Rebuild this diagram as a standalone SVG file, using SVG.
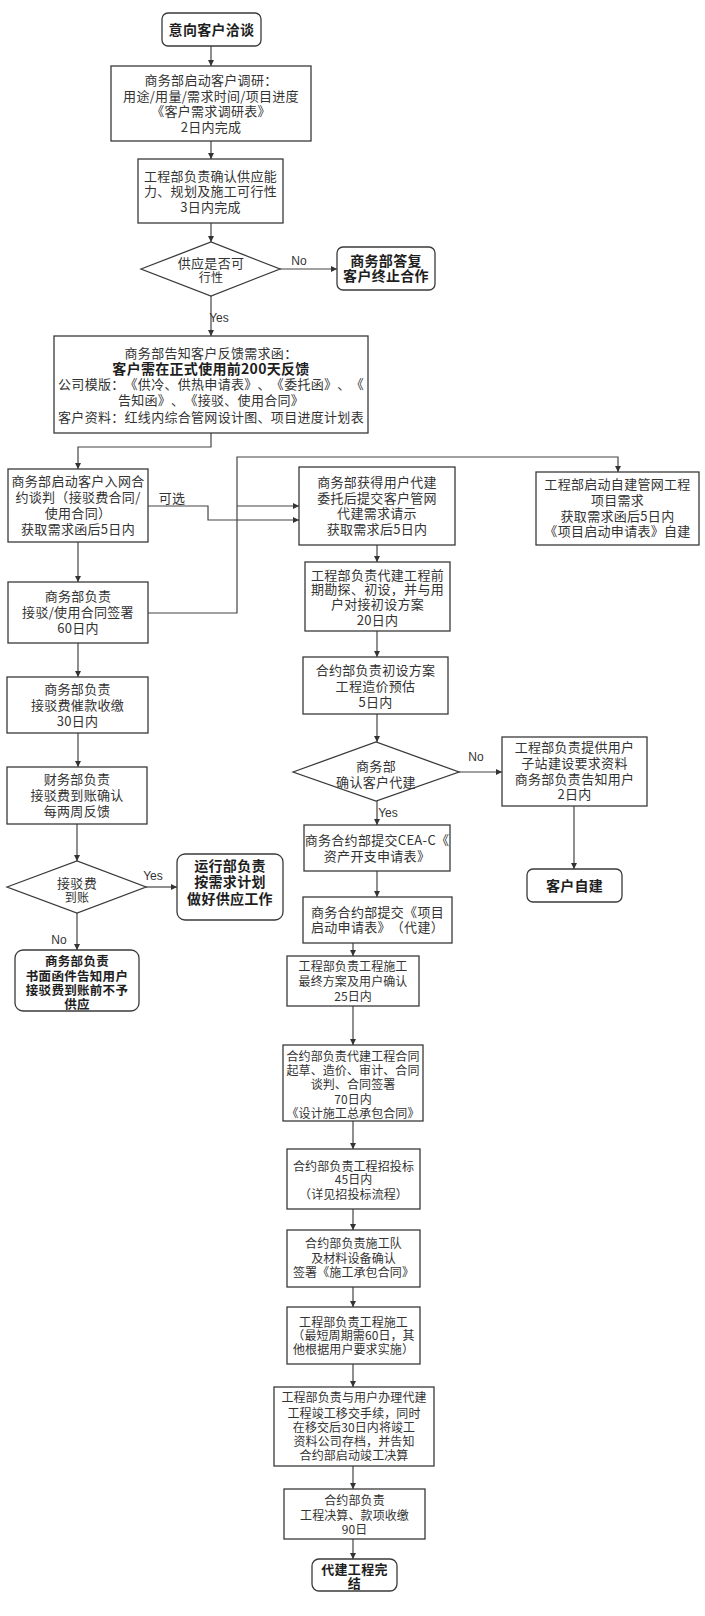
<svg xmlns="http://www.w3.org/2000/svg" width="705" height="1616" viewBox="0 0 705 1616">
<defs>
<style>
.box{fill:#fff;stroke:#3a3a3a;stroke-width:1.3}
.t{font-family:"Noto Sans CJK SC","Liberation Sans",sans-serif;font-size:13px;fill:#333;text-anchor:middle;letter-spacing:0.3px;text-spacing-trim:space-all}
.s{font-size:12px;letter-spacing:0.1px}
.b{font-weight:bold;fill:#1e1e1e;font-size:14px}
.lbl{font-family:"Liberation Sans",sans-serif;font-size:12px;fill:#333;text-anchor:middle}
.c{fill:none;stroke:#444;stroke-width:1.2;marker-end:url(#a)}
</style>
<marker id="a" markerWidth="6" markerHeight="6" refX="6" refY="3" orient="auto" markerUnits="userSpaceOnUse">
<path d="M0,0 L6,3 L0,6 z" fill="#333"/>
</marker>
</defs>
<rect width="705" height="1616" fill="#fff"/>

<g id="connectors">
<path class="c" d="M211,46 V66"/>
<path class="c" d="M211,141 V159"/>
<path class="c" d="M211,223 V242"/>
<path class="c" d="M280,269 H337"/>
<path class="c" d="M211,296 V336"/>
<path class="c" d="M211,433 V447 H78 V469"/>
<path class="c" d="M78,542 V582"/>
<path class="c" d="M148,506 H208 V520 H299"/>
<path class="c" d="M148,613 H237 V457 H618 V472"/>
<path class="c" d="M237,506 H299"/>
<path class="c" d="M377,545 V562"/>
<path class="c" d="M377,631 V657"/>
<path class="c" d="M377,714 V742"/>
<path class="c" d="M459,772 H502"/>
<path class="c" d="M574,806 V869"/>
<path class="c" d="M377,801 V825"/>
<path class="c" d="M377,871 V897"/>
<path class="c" d="M353,943 V956"/>
<path class="c" d="M353,1006 V1045"/>
<path class="c" d="M353,1121 V1149"/>
<path class="c" d="M353,1209 V1230"/>
<path class="c" d="M353,1287 V1307"/>
<path class="c" d="M353,1364 V1387"/>
<path class="c" d="M353,1466 V1489"/>
<path class="c" d="M353,1539 V1559"/>
<path class="c" d="M78,643 V677"/>
<path class="c" d="M78,733 V767"/>
<path class="c" d="M77,824 V861"/>
<path class="c" d="M146,887 H177"/>
<path class="c" d="M77,913 V950"/>
<text class="lbl" x="299" y="265">No</text>
<text class="lbl" x="219" y="322">Yes</text>
<text class="t" x="172" y="503">可选</text>
<text class="lbl" x="476" y="761">No</text>
<text class="lbl" x="388" y="817">Yes</text>
<text class="lbl" x="153" y="880">Yes</text>
<text class="lbl" x="59" y="944">No</text>
</g>

<g id="n1"><rect class="box" x="162" y="13" width="99" height="33" rx="6"/>
<text class="t b" x="211.5" y="35">意向客户洽谈</text></g>

<g id="n2"><rect class="box" x="111" y="66" width="200" height="75"/>
<text class="t"><tspan x="211" y="85">商务部启动客户调研：</tspan><tspan x="211" y="101">用途/用量/需求时间/项目进度</tspan><tspan x="211" y="116">《客户需求调研表》</tspan><tspan x="211" y="132">2日内完成</tspan></text></g>

<g id="n3"><rect class="box" x="138" y="159" width="145" height="64"/>
<text class="t"><tspan x="210.5" y="181">工程部负责确认供应能</tspan><tspan x="210.5" y="196">力、规划及施工可行性</tspan><tspan x="210.5" y="212">3日内完成</tspan></text></g>

<g id="d1"><polygon class="box" points="141,269 211,242 280,269 211,296"/>
<text class="t"><tspan x="211" y="268">供应是否可</tspan><tspan x="211" y="282" style="font-size:12px">行性</tspan></text></g>

<g id="n4"><rect class="box" x="337" y="247" width="98" height="43" rx="6"/>
<text class="t b"><tspan x="386" y="266">商务部答复</tspan><tspan x="386" y="281">客户终止合作</tspan></text></g>

<g id="n5"><rect class="box" x="54" y="336" width="314" height="97"/>
<text class="t"><tspan x="211" y="358">商务部告知客户反馈需求函：</tspan><tspan x="211" y="374" style="font-weight:bold;font-size:14px;fill:#1e1e1e">客户需在正式使用前200天反馈</tspan><tspan x="211" y="389">公司模版：《供冷、供热申请表》、《委托函》、《</tspan><tspan x="211" y="405">告知函》、《接驳、使用合同》</tspan><tspan x="211" y="422">客户资料：红线内综合管网设计图、项目进度计划表</tspan></text></g>

<g id="n6"><rect class="box" x="8" y="469" width="140" height="73"/>
<text class="t"><tspan x="78" y="486">商务部启动客户入网合</tspan><tspan x="78" y="502">约谈判（接驳费合同/</tspan><tspan x="78" y="518">使用合同）</tspan><tspan x="78" y="534">获取需求函后5日内</tspan></text></g>

<g id="n7"><rect class="box" x="8" y="582" width="140" height="61"/>
<text class="t"><tspan x="78" y="601">商务部负责</tspan><tspan x="78" y="617">接驳/使用合同签署</tspan><tspan x="78" y="633">60日内</tspan></text></g>

<g id="n8"><rect class="box" x="7" y="677" width="141" height="56"/>
<text class="t"><tspan x="77.5" y="694">商务部负责</tspan><tspan x="77.5" y="710">接驳费催款收缴</tspan><tspan x="77.5" y="726">30日内</tspan></text></g>

<g id="n9"><rect class="box" x="7" y="767" width="140" height="57"/>
<text class="t"><tspan x="77" y="784">财务部负责</tspan><tspan x="77" y="800">接驳费到账确认</tspan><tspan x="77" y="816">每两周反馈</tspan></text></g>

<g id="d2"><polygon class="box" points="7,887 77,861 146,887 77,913"/>
<text class="t"><tspan x="77" y="888">接驳费</tspan><tspan x="77" y="902" style="font-size:12px">到账</tspan></text></g>

<g id="n10"><rect class="box" x="177" y="854" width="106" height="66" rx="8"/>
<text class="t b"><tspan x="230" y="871">运行部负责</tspan><tspan x="230" y="887">按需求计划</tspan><tspan x="230" y="904">做好供应工作</tspan></text></g>

<g id="n11"><rect class="box" x="15" y="950" width="124" height="61" rx="8"/>
<text class="t b" style="font-size:12.5px"><tspan x="77" y="966">商务部负责</tspan><tspan x="77" y="981">书面函件告知用户</tspan><tspan x="77" y="995">接驳费到账前不予</tspan><tspan x="77" y="1009">供应</tspan></text></g>

<g id="n12"><rect class="box" x="299" y="467" width="156" height="78"/>
<text class="t"><tspan x="377" y="487">商务部获得用户代建</tspan><tspan x="377" y="503">委托后提交客户管网</tspan><tspan x="377" y="518">代建需求请示</tspan><tspan x="377" y="534">获取需求后5日内</tspan></text></g>

<g id="n13"><rect class="box" x="536" y="472" width="163" height="73"/>
<text class="t"><tspan x="617.5" y="489">工程部启动自建管网工程</tspan><tspan x="617.5" y="505">项目需求</tspan><tspan x="617.5" y="521">获取需求函后5日内</tspan><tspan x="617.5" y="536">《项目启动申请表》自建</tspan></text></g>

<g id="n14"><rect class="box" x="305" y="562" width="145" height="69"/>
<text class="t"><tspan x="377.5" y="580">工程部负责代建工程前</tspan><tspan x="377.5" y="594">期勘探、初设，并与用</tspan><tspan x="377.5" y="609">户对接初设方案</tspan><tspan x="377.5" y="625">20日内</tspan></text></g>

<g id="n15"><rect class="box" x="303" y="657" width="145" height="57"/>
<text class="t"><tspan x="375.5" y="675">合约部负责初设方案</tspan><tspan x="375.5" y="691">工程造价预估</tspan><tspan x="375.5" y="707">5日内</tspan></text></g>

<g id="d3"><polygon class="box" points="293,772 376,742 459,772 376,801"/>
<text class="t"><tspan x="376" y="771">商务部</tspan><tspan x="376" y="787">确认客户代建</tspan></text></g>

<g id="n16"><rect class="box" x="502" y="737" width="145" height="69"/>
<text class="t"><tspan x="574.5" y="752">工程部负责提供用户</tspan><tspan x="574.5" y="768">子站建设要求资料</tspan><tspan x="574.5" y="784">商务部负责告知用户</tspan><tspan x="574.5" y="799">2日内</tspan></text></g>

<g id="n17"><rect class="box" x="527" y="869" width="95" height="33" rx="6"/>
<text class="t b" x="574.5" y="891">客户自建</text></g>

<g id="n18"><rect class="box" x="304" y="825" width="146" height="46"/>
<text class="t"><tspan x="377" y="845">商务合约部提交CEA-C《</tspan><tspan x="377" y="861">资产开支申请表》</tspan></text></g>

<g id="n19"><rect class="box" x="303" y="897" width="149" height="46"/>
<text class="t"><tspan x="377.5" y="917">商务合约部提交《项目</tspan><tspan x="377.5" y="932">启动申请表》（代建）</tspan></text></g>

<g id="n20"><rect class="box" x="287" y="956" width="132" height="50"/>
<text class="t s"><tspan x="353" y="970.5">工程部负责工程施工</tspan><tspan x="353" y="985.5">最终方案及用户确认</tspan><tspan x="353" y="1000.5">25日内</tspan></text></g>

<g id="n21"><rect class="box" x="283" y="1045" width="140" height="76"/>
<text class="t s"><tspan x="353" y="1060.5">合约部负责代建工程合同</tspan><tspan x="353" y="1074.5">起草、造价、审计、合同</tspan><tspan x="353" y="1088.5">谈判、合同签署</tspan><tspan x="353" y="1103.5">70日内</tspan><tspan x="353" y="1117.5">《设计施工总承包合同》</tspan></text></g>

<g id="n22"><rect class="box" x="287" y="1149" width="133" height="60"/>
<text class="t s"><tspan x="353.5" y="1170.5">合约部负责工程招投标</tspan><tspan x="353.5" y="1183.5">45日内</tspan><tspan x="353.5" y="1198.5">（详见招投标流程）</tspan></text></g>

<g id="n23"><rect class="box" x="287" y="1230" width="133" height="57"/>
<text class="t s"><tspan x="353.5" y="1247.5">合约部负责施工队</tspan><tspan x="353.5" y="1262.5">及材料设备确认</tspan><tspan x="353.5" y="1276.5">签署《施工承包合同》</tspan></text></g>

<g id="n24"><rect class="box" x="287" y="1307" width="133" height="57"/>
<text class="t s"><tspan x="353.5" y="1326.5">工程部负责工程施工</tspan><tspan x="353.5" y="1339.5">（最短周期需60日，其</tspan><tspan x="353.5" y="1353.5">他根据用户要求实施）</tspan></text></g>

<g id="n25"><rect class="box" x="274" y="1387" width="160" height="79"/>
<text class="t s"><tspan x="354" y="1401.5">工程部负责与用户办理代建</tspan><tspan x="354" y="1417.5">工程竣工移交手续，同时</tspan><tspan x="354" y="1431.5">在移交后30日内将竣工</tspan><tspan x="354" y="1445.5">资料公司存档，并告知</tspan><tspan x="354" y="1459.5">合约部启动竣工决算</tspan></text></g>

<g id="n26"><rect class="box" x="284" y="1489" width="141" height="50"/>
<text class="t s"><tspan x="354.5" y="1504.5">合约部负责</tspan><tspan x="354.5" y="1519.5">工程决算、款项收缴</tspan><tspan x="354.5" y="1533.5">90日</tspan></text></g>

<g id="n27"><rect class="box" x="312" y="1559" width="85" height="32" rx="7"/>
<text class="t b" style="font-size:13px"><tspan x="354.5" y="1573.5">代建工程完</tspan><tspan x="354.5" y="1587.5">结</tspan></text></g>
</svg>
